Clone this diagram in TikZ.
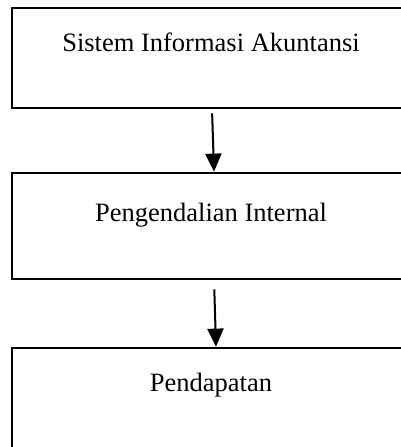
\documentclass[tikz,border=0pt]{standalone}
\usepackage{fontspec}
\setmainfont{Liberation Serif}
\usetikzlibrary{arrows.meta}

\tikzset{
    block/.style={rectangle, draw, line width=1.3pt, minimum width=6.965cm, text height=0.35cm, font=\fontsize{13.2}{16}\selectfont},
    flow/.style={-{Triangle[width=8pt,length=9pt]}, line width=1pt}
}

\begin{document}
\begin{tikzpicture}
    \useasboundingbox (0, 0) rectangle (7, -7.8225);

    \node (sistem) [block, minimum height=1.75cm, text depth=0.58cm] at (3.6925, -1.015) {Sistem Informasi Akuntansi};
    \node (kontrol) [block, minimum height=1.855cm, text depth=0.51cm] at (3.6925, -3.955) {Pengendalian Internal};
    \node (pendapatan) [block, minimum height=1.925cm, text depth=0.75cm] at (3.6925, -7.0525) {Pendapatan};

    \draw[flow, shorten <=2pt] ([xshift=0.5pt]sistem.south) to ([xshift=1.5pt]kontrol.north);
    \draw[flow, shorten <=4.5pt] ([xshift=1.5pt]kontrol.south) to ([xshift=2.5pt]pendapatan.north);
\end{tikzpicture}
\end{document}
